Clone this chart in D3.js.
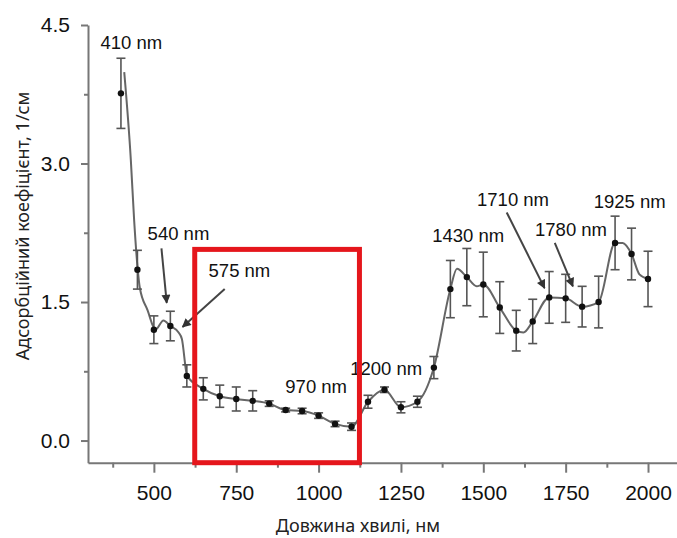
<!DOCTYPE html>
<html>
<head>
<meta charset="utf-8">
<script src="https://cdn.jsdelivr.net/npm/d3@7"></script>
<style>
  body { margin: 0; background: #fff; }
  svg { display: block; }
  .tick text { font-family: 'Liberation Sans', Arial, sans-serif; font-size: 21px; fill: #111; }
  .axis path, .axis line { stroke: #777; stroke-width: 2; }
  .peak-label { font-family: 'Liberation Sans', Arial, sans-serif; font-size: 18.5px; fill: #111; }
  .axis-title { font-family: 'Noto Sans', sans-serif; font-size: 18px; fill: #222; }
</style>
</head>
<body>
<div id="chart"></div>
<script>
// measured points with error bars
const wavelengths = [400, 450, 500, 550, 600, 650, 700, 750, 800, 850, 900, 950, 1000, 1050, 1100,
  1150, 1200, 1250, 1300, 1350, 1400, 1450, 1500, 1550, 1600, 1650, 1700, 1750, 1800, 1850, 1900, 1950, 2000]
const absorption = [3.76, 1.85, 1.20, 1.24, 0.70, 0.56, 0.48, 0.45, 0.43, 0.40, 0.33, 0.32, 0.27, 0.18, 0.15,
  0.42, 0.55, 0.36, 0.42, 0.79, 1.64, 1.77, 1.69, 1.44, 1.19, 1.29, 1.55, 1.54, 1.45, 1.50, 2.14, 2.02, 1.75]
const errors = [0.38, 0.21, 0.15, 0.16, 0.12, 0.12, 0.12, 0.13, 0.11, 0.03, 0.02, 0.03, 0.03, 0.03, 0.04,
  0.07, 0.03, 0.06, 0.06, 0.12, 0.31, 0.31, 0.35, 0.28, 0.22, 0.24, 0.28, 0.26, 0.22, 0.28, 0.29, 0.28, 0.30]

// the smoothed spectrum curve (does not go exactly through the points)
const lineWavelengths = [410, 430, 440, 451, 457, 481, 505, 529, 550, 575, 585, 601, 650, 700, 750, 800, 850,
  900, 950, 1000, 1050, 1100, 1150, 1200, 1250, 1300, 1350, 1400, 1420, 1450, 1480, 1500, 1550, 1600, 1622,
  1650, 1700, 1750, 1800, 1850, 1900, 1923, 1950, 1974, 2000]
const lineAbsorption = [3.99, 3.04, 2.39, 1.85, 1.66, 1.41, 1.20, 1.30, 1.24, 1.17, 1.10, 0.70, 0.56, 0.48, 0.45,
  0.43, 0.40, 0.33, 0.32, 0.27, 0.18, 0.15, 0.42, 0.55, 0.36, 0.42, 0.79, 1.64, 1.86, 1.77, 1.67, 1.69, 1.44,
  1.19, 1.17, 1.29, 1.55, 1.54, 1.45, 1.50, 2.14, 2.14, 2.02, 1.80, 1.75]

const xTicks = [500, 750, 1000, 1250, 1500, 1750, 2000]
const xMinorTicks = [375, 625, 875, 1125, 1375, 1625, 1875]
const yTicks = [0, 1.5, 3.0, 4.5]
const yMinorTicks = [0.75, 2.25, 3.75]

// peak labels, anchored in data units (nm, 1/cm) at text start / baseline
const peakLabels = ['410 nm', '540 nm', '575 nm', '970 nm', '1200 nm', '1430 nm', '1710 nm', '1780 nm', '1925 nm']
const peakLabelNm = [338, 481, 666, 899, 1096, 1345, 1481, 1657, 1835]
const peakLabelValue = [4.24, 2.17, 1.77, 0.51, 0.71, 2.15, 2.54, 2.21, 2.52]

// arrows pointing at peaks: start -> end
const arrowFromNm = [523, 715, 1571, 1717]
const arrowFromValue = [2.08, 1.64, 2.47, 2.14]
const arrowToNm = [539, 587, 1686, 1772]
const arrowToValue = [1.49, 1.23, 1.65, 1.67]

// highlighted range (red box)
const highlightNm = [624, 1124]
const highlightTop = 2.07

let margin = { top: 25, left: 88, right: 0, bottom: 75.3 }
let width = 677 - margin.left - margin.right
let height = 538 - margin.top - margin.bottom

const svgRoot = d3
  .select('#chart')
  .append('svg')
  .attr('width', 677)
  .attr('height', 538)

const svg = svgRoot
  .append('g')
  .attr('transform', 'translate(' + margin.left + ',' + margin.top + ')')

var xPositionScale = d3
  .scaleLinear()
  .domain([300, 2088])
  .range([0, width])

var yPositionScale = d3
  .scaleLinear()
  .domain([-0.24, 4.5])
  .range([height, 0])

svgRoot
  .append('defs')
  .append('marker')
  .attr('id', 'arrowhead')
  .attr('markerUnits', 'userSpaceOnUse')
  .attr('viewBox', '0 0 10 10')
  .attr('refX', 9)
  .attr('refY', 5)
  .attr('markerWidth', 10)
  .attr('markerHeight', 9)
  .attr('orient', 'auto')
  .append('path')
  .attr('d', 'M0,0 L10,5 L0,10 z')
  .attr('fill', '#333')

// axes
const xAxis = d3
  .axisBottom(xPositionScale)
  .tickValues(xTicks)
  .tickFormat(d3.format('d'))
  .tickSize(10)
  .tickSizeOuter(0)
  .tickPadding(12)
svg
  .append('g')
  .attr('class', 'axis x-axis')
  .attr('transform', 'translate(0,' + height + ')')
  .call(xAxis)

svg
  .append('g')
  .attr('class', 'axis x-minor')
  .attr('transform', 'translate(0,' + height + ')')
  .call(d3.axisBottom(xPositionScale).tickValues(xMinorTicks).tickSize(5).tickFormat(''))
  .select('.domain')
  .remove()

const yAxis = d3
  .axisLeft(yPositionScale)
  .tickValues(yTicks)
  .tickFormat(d3.format('.1f'))
  .tickSize(7)
  .tickSizeOuter(0)
  .tickPadding(11)
svg
  .append('g')
  .attr('class', 'axis y-axis')
  .call(yAxis)

svg
  .append('g')
  .attr('class', 'axis y-minor')
  .call(d3.axisLeft(yPositionScale).tickValues(yMinorTicks).tickSize(4).tickFormat(''))
  .select('.domain')
  .remove()

// spectrum line
const line = d3
  .line()
  .x(d => xPositionScale(d[0]))
  .y(d => yPositionScale(d[1]))
  .curve(d3.curveMonotoneX)

svg
  .append('path')
  .datum(lineWavelengths.map((w, i) => [w, lineAbsorption[i]]))
  .attr('d', line)
  .attr('fill', 'none')
  .attr('stroke', '#666')
  .attr('stroke-width', 2)

const points = wavelengths.map((w, i) => ({ nm: w, value: absorption[i], err: errors[i] }))

// error bars
const bars = svg
  .selectAll('.errbar')
  .data(points)
  .enter()
  .append('g')
  .attr('class', 'errbar')
  .attr('stroke', '#555')
  .attr('stroke-width', 1.6)

bars
  .append('line')
  .attr('x1', d => xPositionScale(d.nm))
  .attr('x2', d => xPositionScale(d.nm))
  .attr('y1', d => yPositionScale(d.value + d.err))
  .attr('y2', d => yPositionScale(d.value - d.err))

bars
  .append('line')
  .attr('x1', d => xPositionScale(d.nm) - 4.5)
  .attr('x2', d => xPositionScale(d.nm) + 4.5)
  .attr('y1', d => yPositionScale(d.value + d.err))
  .attr('y2', d => yPositionScale(d.value + d.err))

bars
  .append('line')
  .attr('x1', d => xPositionScale(d.nm) - 4.5)
  .attr('x2', d => xPositionScale(d.nm) + 4.5)
  .attr('y1', d => yPositionScale(d.value - d.err))
  .attr('y2', d => yPositionScale(d.value - d.err))

svg
  .selectAll('.point')
  .data(points)
  .enter()
  .append('circle')
  .attr('class', 'point')
  .attr('cx', d => xPositionScale(d.nm))
  .attr('cy', d => yPositionScale(d.value))
  .attr('r', 3.2)
  .attr('fill', '#111')

// arrows
svg
  .selectAll('.arrow')
  .data(arrowFromNm)
  .enter()
  .append('line')
  .attr('class', 'arrow')
  .attr('x1', (d, i) => xPositionScale(d))
  .attr('y1', (d, i) => yPositionScale(arrowFromValue[i]))
  .attr('x2', (d, i) => xPositionScale(arrowToNm[i]))
  .attr('y2', (d, i) => yPositionScale(arrowToValue[i]))
  .attr('stroke', '#444')
  .attr('stroke-width', 2)
  .attr('marker-end', 'url(#arrowhead)')

svg
  .selectAll('.peak-label')
  .data(peakLabels)
  .enter()
  .append('text')
  .attr('class', 'peak-label')
  .attr('x', (d, i) => xPositionScale(peakLabelNm[i]))
  .attr('y', (d, i) => yPositionScale(peakLabelValue[i]))
  .text(d => d)

// red highlight box, drawn on top
svg
  .append('rect')
  .attr('x', xPositionScale(highlightNm[0]))
  .attr('y', yPositionScale(highlightTop))
  .attr('width', xPositionScale(highlightNm[1]) - xPositionScale(highlightNm[0]))
  .attr('height', height - yPositionScale(highlightTop))
  .attr('fill', 'none')
  .attr('stroke', '#e5161c')
  .attr('stroke-width', 5)

// axis titles
svgRoot
  .append('text')
  .attr('class', 'axis-title')
  .attr('x', 358)
  .attr('y', 532)
  .attr('text-anchor', 'middle')
  .text('Довжина хвилі, нм')

svgRoot
  .append('text')
  .attr('class', 'axis-title')
  .attr('transform', 'translate(29,226) rotate(-90)')
  .attr('text-anchor', 'middle')
  .text('Адсорбційний коефіцієнт, 1/см')
</script>
</body>
</html>
